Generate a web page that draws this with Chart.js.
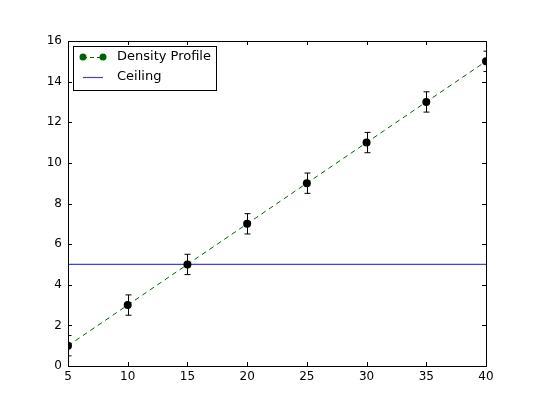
<!DOCTYPE html>
<html>
<head>
<meta charset="utf-8">
<script src="https://cdn.jsdelivr.net/npm/chart.js@4/dist/chart.umd.min.js"></script>
<style>
  html, body { margin: 0; padding: 0; background: #fff; }
  #wrap { width: 540px; height: 407px; }
</style>
</head>
<body>
<div id="wrap"><canvas id="chart" width="540" height="407"></canvas></div>
<script>
const xValues = [5, 10, 15, 20, 25, 30, 35, 40];
const densityValues = [1, 3, 5, 7, 9, 11, 13, 15];
const densityErrors = [0.5, 0.5, 0.5, 0.5, 0.5, 0.5, 0.5, 0.5];
const ceilingValue = 5;
const xTicks = [5, 10, 15, 20, 25, 30, 35, 40];
const yTicks = [0, 2, 4, 6, 8, 10, 12, 14, 16];

const ctx = document.getElementById('chart').getContext('2d');

// error bars + inner ticks + legend box, matplotlib classic look
const extrasPlugin = {
    id: 'extras',
    afterDatasetsDraw(chart) {
        const c = chart.ctx;
        const a = chart.chartArea;
        const xs = chart.scales.x, ys = chart.scales.y;
        c.save();
        c.beginPath();
        c.rect(a.left, a.top, a.right - a.left, a.bottom - a.top);
        c.clip();
        c.strokeStyle = '#000';
        c.lineWidth = 1;
        xValues.forEach((x, i) => {
            const px = Math.round(xs.getPixelForValue(x)) + 0.5;
            const top = ys.getPixelForValue(densityValues[i] + densityErrors[i]);
            const bot = ys.getPixelForValue(densityValues[i] - densityErrors[i]);
            c.beginPath();
            c.moveTo(px, top); c.lineTo(px, bot);
            c.moveTo(px - 3, top); c.lineTo(px + 3, top);
            c.moveTo(px - 3, bot); c.lineTo(px + 3, bot);
            c.stroke();
        });
        // markers on top of the bars
        c.fillStyle = '#000';
        xValues.forEach((x, i) => {
            c.beginPath();
            c.arc(xs.getPixelForValue(x), ys.getPixelForValue(densityValues[i]), 4, 0, Math.PI * 2);
            c.fill();
        });
        c.restore();
    },
    afterDraw(chart) {
        const c = chart.ctx;
        const a = chart.chartArea;
        const xs = chart.scales.x, ys = chart.scales.y;
        c.save();
        c.strokeStyle = '#000';
        c.lineWidth = 1;
        c.strokeRect(Math.round(a.left) + 0.5, Math.round(a.top) + 0.5, Math.round(a.right - a.left), Math.round(a.bottom - a.top));
        c.beginPath();
        xTicks.forEach(t => {
            const px = Math.round(xs.getPixelForValue(t)) + 0.5;
            c.moveTo(px, a.bottom); c.lineTo(px, a.bottom - 4);
            c.moveTo(px, a.top); c.lineTo(px, a.top + 4);
        });
        yTicks.forEach(t => {
            const py = Math.round(ys.getPixelForValue(t)) + 0.5;
            c.moveTo(a.left, py); c.lineTo(a.left + 4, py);
            c.moveTo(a.right, py); c.lineTo(a.right - 4, py);
        });
        c.stroke();

        // legend
        const lx = a.left + 5, ly = a.top + 5, lw = 143, lh = 44;
        c.fillStyle = '#fff';
        c.fillRect(lx, ly, lw, lh);
        c.strokeRect(lx + 0.5, ly + 0.5, lw, lh);
        c.font = '13px "DejaVu Sans"';
        c.textBaseline = 'middle';
        const r1 = ly + 11, r2 = ly + 31;
        c.strokeStyle = '#006400';
        c.setLineDash([4, 3]);
        c.beginPath(); c.moveTo(lx + 10, r1 + 0.5); c.lineTo(lx + 30, r1 + 0.5); c.stroke();
        c.setLineDash([]);
        c.fillStyle = '#006400';
        [lx + 10, lx + 30].forEach(px => { c.beginPath(); c.arc(px, r1, 3.5, 0, Math.PI * 2); c.fill(); });
        c.strokeStyle = '#4444cc';
        c.lineWidth = 1.2;
        c.beginPath(); c.moveTo(lx + 10, r2 + 0.5); c.lineTo(lx + 30, r2 + 0.5); c.stroke();
        c.fillStyle = '#000';
        c.fillText(chart.data.datasets[0].label, lx + 44, r1);
        c.fillText(chart.data.datasets[1].label, lx + 44, r2);
        c.restore();
    }
};

new Chart(ctx, {
    type: 'line',
    data: {
        datasets: [{
            label: 'Density Profile',
            data: xValues.map((x, i) => ({ x: x, y: densityValues[i] })),
            borderColor: '#006400',
            borderWidth: 1,
            borderDash: [5, 4],
            pointRadius: 0,
            fill: false
        }, {
            label: 'Ceiling',
            data: [{ x: xTicks[0], y: ceilingValue }, { x: xTicks[xTicks.length - 1], y: ceilingValue }],
            borderColor: '#4444cc',
            borderWidth: 1.2,
            pointRadius: 0,
            fill: false
        }]
    },
    options: {
        responsive: false,
        animation: false,
        layout: { padding: { left: 0, right: 54, top: 41, bottom: 0 } },
        plugins: { legend: { display: false }, tooltip: { enabled: false } },
        scales: {
            x: {
                type: 'linear',
                min: 5, max: 40,
                afterBuildTicks: s => { s.ticks = xTicks.map(v => ({ value: v })); },
                afterFit: s => { s.height = 41; },
                grid: { display: false, drawTicks: false },
                border: { display: false },
                ticks: { color: '#000', padding: 4, maxRotation: 0, font: { family: 'DejaVu Sans', size: 12 } }
            },
            y: {
                min: 0, max: 16,
                afterBuildTicks: s => { s.ticks = yTicks.map(v => ({ value: v })); },
                afterFit: s => { s.width = 68; },
                grid: { display: false, drawTicks: false },
                border: { display: false },
                ticks: { color: '#000', padding: 6, font: { family: 'DejaVu Sans', size: 12 } }
            }
        }
    },
    plugins: [extrasPlugin]
});
</script>
</body>
</html>
